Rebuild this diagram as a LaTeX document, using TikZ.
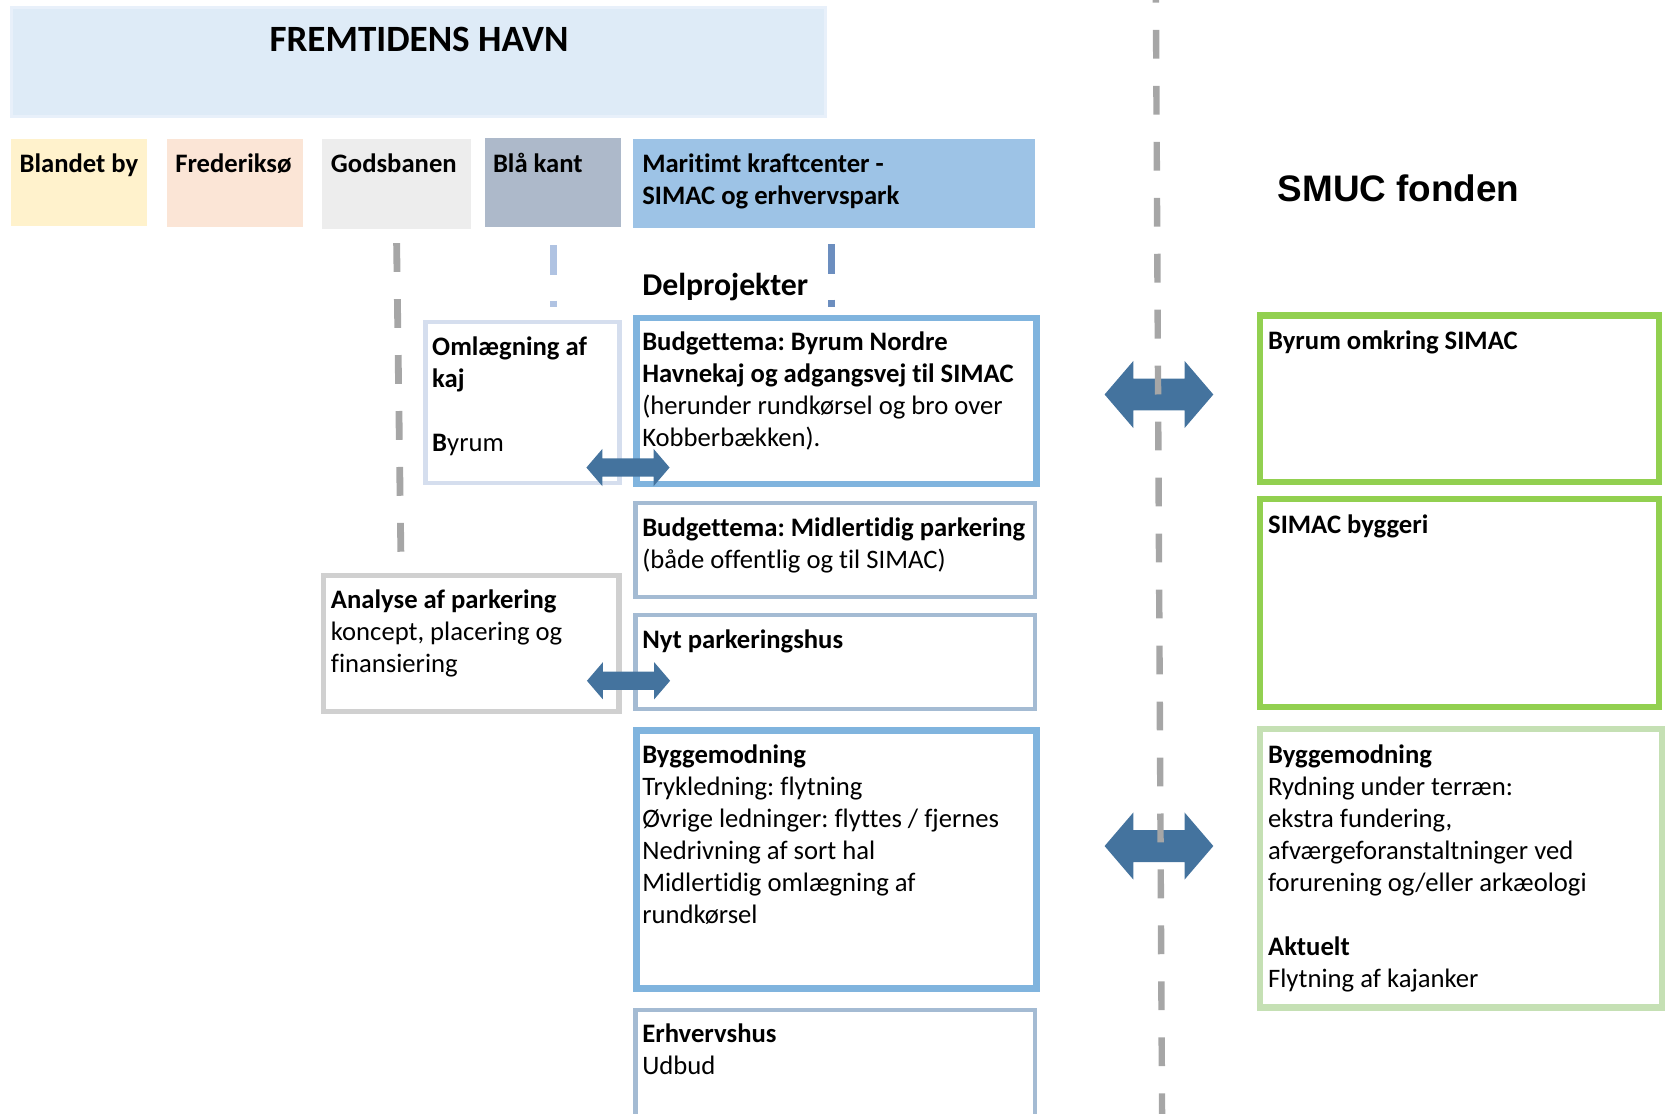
\documentclass[tikz,border=0pt]{standalone}
\usepackage{fontspec}
\setmainfont{Carlito}[Ligatures={NoCommon}]
\newfontfamily\arialfont{Liberation Sans}
\usetikzlibrary{fit}
\frenchspacing
\definecolor{hdrfill}{HTML}{DEEBF7}
\definecolor{hdrline}{HTML}{E8F0FA}
\definecolor{cYellow}{HTML}{FFF2CC}
\definecolor{cPeach}{HTML}{FBE5D6}
\definecolor{cGrey}{HTML}{EDEDED}
\definecolor{cBlueGrey}{HTML}{ADB9CA}
\definecolor{cBlue}{HTML}{9DC3E6}
\definecolor{midBlue}{HTML}{80B4DE}
\definecolor{greyBlue}{HTML}{A4BBD3}
\definecolor{paleBlue}{HTML}{D5DEEE}
\definecolor{paleGrey}{HTML}{D0D0D0}
\definecolor{cGreen}{HTML}{92D050}
\definecolor{paleGreen}{HTML}{C5E0B4}
\definecolor{arrowBlue}{HTML}{44739E}
\definecolor{dashGrey}{HTML}{A6A6A6}
\definecolor{dashLight}{HTML}{B0C3E2}
\definecolor{dashDark}{HTML}{6C8EBF}
\begin{document}
\begin{tikzpicture}[x=0.5pt,y=-0.5pt,
  txt/.style={anchor=base west, align=left, inner sep=0pt, font=\fontsize{12.5}{15}\selectfont\frenchspacing},
  colbox/.style={inner sep=0pt, draw=none},
  frame/.style={inner sep=0pt, draw=#1},
  thick frame/.style={frame=#1, line width=3pt},
  thin frame/.style={frame=#1, line width=2pt},
  gdash/.style={line width=3.2pt, dash pattern=on 13.5pt off 12.75pt},
  smallarr/.pic={\fill[arrowBlue] (-39,0) -- (-24,-17.5) -- (-24,-8.5) -- (24,-8.5) -- (24,-17.5) -- (39,0) -- (24,17.5) -- (24,8.5) -- (-24,8.5) -- (-24,17.5) -- cycle;},
  bigarr/.pic={\fill[arrowBlue] (-51,0) -- (-24,-31.5) -- (-24,-15) -- (24,-15) -- (24,-31.5) -- (51,0) -- (24,31.5) -- (24,15) -- (-24,15) -- (-24,31.5) -- cycle;}
]
\useasboundingbox (0,0) rectangle (1571,1044);
\clip (0,0) rectangle (1571,1044);

% header
\node[colbox, fill=hdrfill, draw=hdrline, line width=1.5pt, fit={(11,7) (774,109)}] (hdr) {};
\node[font=\bfseries\fontsize{17.4}{20}\selectfont, anchor=base, inner sep=0pt] (title) at (393,48) {FREMTIDENS HAVN};

% column heads
\node[colbox, fill=cYellow, fit={(10,130) (138,212)}] (cBland) {};
\node[colbox, fill=cPeach, fit={(157,130) (284,213)}] (cFred) {};
\node[colbox, fill=cGrey, fit={(302,130) (442,215)}] (cGods) {};
\node[colbox, fill=cBlueGrey, fit={(455,129) (582,213)}] (cBlaa) {};
\node[colbox, fill=cBlue, fit={(594,130) (971,214)}] (cMarit) {};
\node[txt] (tBland) at (18,162) {\textbf{Blandet by}};
\node[txt] (tFred) at (164,162) {\textbf{Frederiksø}};
\node[txt] (tGods) at (310,162) {\textbf{Godsbanen}};
\node[txt] (tBlaa) at (462,162) {\textbf{Blå kant}};
\node[txt] (tMarit) at (602,192) {\textbf{Maritimt kraftcenter -}\\\textbf{SIMAC og erhvervspark}};

\node[font=\bfseries\fontsize{14.9}{18}\selectfont, anchor=base west, inner sep=0pt] (delp) at (602,277) {Delprojekter};
\node[font=\arialfont\bfseries\fontsize{17.3}{20}\selectfont, anchor=base west, inner sep=0pt] (smuc) at (1198,189) {SMUC fonden};

% dashed lines
\coordinate (g1) at (372,228); \coordinate (g2) at (376,520);
\draw[dashGrey, gdash] (g1) -- (g2);
\coordinate (b1) at (519,230); \coordinate (b2) at (519,288);
\draw[dashLight, line width=3pt, dash pattern=on 14pt off 12pt] (b1) -- (b2);
\coordinate (m1) at (780,229); \coordinate (m2) at (780,288);
\draw[dashDark, line width=3pt, dash pattern=on 14pt off 12pt] (m1) -- (m2);

% left boxes
\node[thin frame=paleBlue, fit={(399,302) (581,453)}] (omlaeg) {};
\node[txt] (tOmlaeg) at (405,423) {\textbf{Omlægning af}\\\textbf{kaj}\\[15pt]\textbf{B}yrum};
\node[frame=paleGrey, line width=2.5pt, fit={(303.5,539.5) (580.5,667.5)}] (analyse) {};
\node[txt] (tAnalyse) at (310,631) {\textbf{Analyse af parkering}\\koncept, placering og\\finansiering};

% delprojekter
\node[thick frame=midBlue, fit={(597,298) (972,454)}] (budget1) {};
\node[txt] (tBudget1) at (602,419) {\textbf{Budgettema: Byrum Nordre}\\\textbf{Havnekaj og adgangsvej til SIMAC}\\(herunder rundkørsel og bro over\\Kobberbækken).};
\node[thin frame=greyBlue, fit={(596,472) (971,560)}] (budget2) {};
\node[txt] (tBudget2) at (602,533) {\textbf{Budgettema: Midlertidig parkering}\\(både offentlig og til SIMAC)};
\node[thin frame=greyBlue, fit={(596,577) (971,665)}] (nyt) {};
\node[txt] (tNyt) at (602,608) {\textbf{Nyt parkeringshus}};
\node[thick frame=midBlue, fit={(597,685) (972,927)}] (bygge) {};
\node[txt] (tBygge) at (602,866) {\textbf{Byggemodning}\\Trykledning: flytning\\Øvrige ledninger: flyttes / fjernes\\Nedrivning af sort hal\\Midlertidig omlægning af\\rundkørsel};
\node[thin frame=greyBlue, fit={(596,947) (971,1075)}] (erhverv) {};
\node[txt] (tErhverv) at (602,1008) {\textbf{Erhvervshus}\\Udbud};

% SMUC boxes
\node[thick frame=cGreen, fit={(1182,296) (1556,452)}] (byrumS) {};
\node[txt] (tByrumS) at (1189,328) {\textbf{Byrum omkring SIMAC}};
\node[thick frame=cGreen, fit={(1182,468) (1556,663)}] (simacB) {};
\node[txt] (tSimacB) at (1189,500) {\textbf{SIMAC byggeri}};
\node[thick frame=paleGreen, fit={(1182,684) (1559,945)}] (byggeS) {};
\node[txt] (tByggeS) at (1189,926) {\textbf{Byggemodning}\\Rydning under terræn:\\ekstra fundering,\\afværgeforanstaltninger ved\\forurening og/eller arkæologi\\[15pt]\textbf{Aktuelt}\\Flytning af kajanker};

% arrows
\pic (arrOm) at (589,438.5) {smallarr};
\pic (arrAn) at (589.5,638.5) {smallarr};
\pic (arrBig1) at (1087,370) {bigarr};
\pic (arrBig2) at (1087,793.5) {bigarr};

% centre divider
\coordinate (c1) at (1084,-24.5); \coordinate (c2) at (1090,1060);
\draw[dashGrey, gdash, line width=3pt] (c1) -- (c2);
\end{tikzpicture}
\end{document}
